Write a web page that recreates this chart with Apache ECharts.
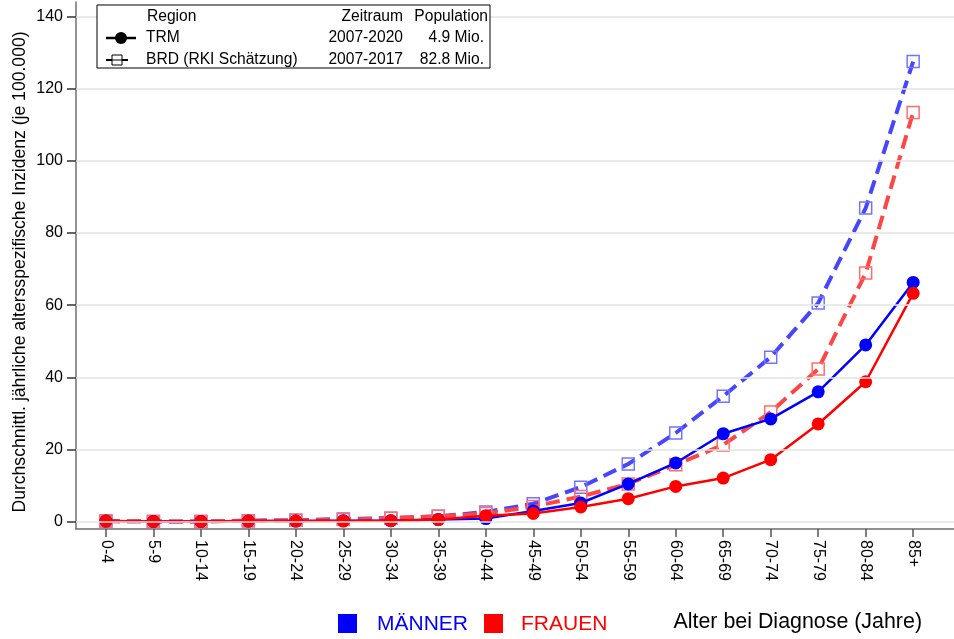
<!DOCTYPE html>
<html>
<head>
<meta charset="utf-8">
<script src="https://cdn.jsdelivr.net/npm/echarts@6/dist/echarts.min.js"></script>
<style>
  html, body { margin: 0; padding: 0; background: #fff; }
  #main { width: 954px; height: 639px; }
</style>
</head>
<body>
<div id="main"></div>
<script>
// Altersgruppen (x-Achse)
const categories = ['0-4', '5-9', '10-14', '15-19', '20-24', '25-29', '30-34', '35-39', '40-44',
  '45-49', '50-54', '55-59', '60-64', '65-69', '70-74', '75-79', '80-84', '85+'];

// TRM, 2007-2020
const trmMen   = [0.2, 0.1, 0.1, 0.2, 0.2, 0.3, 0.3, 0.6, 0.9, 3.0, 5.2, 10.5, 16.3, 24.4, 28.5, 36.0, 49.0, 66.3];
const trmWomen = [0.2, 0.1, 0.1, 0.2, 0.2, 0.2, 0.3, 0.6, 1.7, 2.3, 4.1, 6.4, 9.8, 12.1, 17.2, 27.1, 38.8, 63.3];

// BRD (RKI Schätzung), 2007-2017
const brdMen   = [0.2, 0.1, 0.1, 0.3, 0.4, 0.8, 1.0, 1.5, 2.7, 5.0, 9.6, 16.0, 24.6, 34.8, 45.6, 60.6, 86.9, 127.5];
const brdWomen = [0.2, 0.1, 0.1, 0.3, 0.4, 0.6, 1.0, 1.5, 2.3, 4.2, 7.0, 10.5, 15.8, 21.3, 30.4, 42.3, 68.9, 113.4];

// y-Achse
const yTicks = [0, 20, 40, 60, 80, 100, 120, 140];
const yTitle = 'Durchschnittl. jährliche altersspezifische Inzidenz (je 100.000)';

// legend table rows
const legendHeader = ['Region', 'Zeitraum', 'Population'];
const legendRows = [
  ['TRM', '2007-2020', '4.9 Mio.'],
  ['BRD (RKI Schätzung)', '2007-2017', '82.8 Mio.']
];

const FONT = '"Liberation Sans", Arial, sans-serif';
const xIdx = categories.map((c, i) => i);

function pairs(arr) {
  return arr.map((v, i) => [i, v]);
}

const chart = echarts.init(document.getElementById('main'), null, { renderer: 'canvas' });

function trmSeries(name, color, values) {
  return {
    name: name,
    type: 'line',
    data: pairs(values),
    z: 4,
    symbol: 'circle',
    symbolSize: 13,
    lineStyle: { color: color, width: 2.5 },
    itemStyle: { color: color, borderWidth: 0 },
    animation: false
  };
}

function brdSeries(name, color, border, values) {
  return {
    name: name,
    type: 'line',
    data: pairs(values),
    z: 3,
    symbol: 'rect',
    symbolSize: 12,
    lineStyle: { color: color, width: 4, type: [14, 7] },
    itemStyle: { color: 'rgba(255,255,255,0)', borderColor: border, borderWidth: 1.5 },
    animation: false
  };
}

function txt(x, y, s, size, color, alignRight) {
  return {
    type: 'text', z: 101, x: x, y: y,
    style: {
      text: s, font: size + 'px ' + FONT, fill: color,
      align: alignRight ? 'right' : 'left', verticalAlign: 'middle'
    }
  };
}

const option = {
  animation: false,
  textStyle: { fontFamily: FONT },
  grid: { left: 76, right: 0, top: 2, bottom: 110, containLabel: false, outerBoundsMode: 'none' },
  xAxis: {
    type: 'value',
    min: -0.63,
    max: 17.86,
    axisLine: { show: true, onZero: false, lineStyle: { color: '#6e6e6e', width: 1.5 } },
    axisTick: { show: true, length: 8, customValues: xIdx, lineStyle: { color: '#555', width: 1.5 } },
    axisLabel: {
      customValues: xIdx,
      rotate: -90,
      margin: 11,
      fontSize: 16,
      color: '#000',
      fontFamily: FONT,
      formatter: v => (Number.isInteger(v) && categories[v] !== undefined) ? categories[v] : ''
    },
    splitLine: { show: false }
  },
  yAxis: {
    type: 'value',
    min: -2,
    max: 144,
    axisLine: { show: true, onZero: false, lineStyle: { color: '#6e6e6e', width: 1.5 } },
    axisTick: { show: true, length: 9, customValues: yTicks, lineStyle: { color: '#333', width: 1.5 } },
    axisLabel: {
      customValues: yTicks,
      margin: 13,
      fontSize: 16,
      color: '#000',
      fontFamily: FONT
    },
    splitLine: { show: false }
  },
  series: [
    {
      name: 'grid',
      type: 'line',
      data: [],
      z: 1,
      silent: true,
      markLine: {
        silent: true,
        symbol: 'none',
        animation: false,
        label: { show: false },
        lineStyle: { color: '#e3e3e3', width: 1.5, type: 'solid' },
        data: yTicks.map(v => ({ yAxis: v }))
      }
    },
    brdSeries('BRD Männer', '#4646ff', '#7373ff', brdMen),
    trmSeries('TRM Männer', '#0000ff', trmMen),
    brdSeries('BRD Frauen', '#ff4646', '#ff6e6e', brdWomen),
    trmSeries('TRM Frauen', '#ff0000', trmWomen)
  ],
  graphic: [
    // y-Achsentitel
    {
      type: 'text', x: 20, y: 272, rotation: Math.PI / 2,
      style: { text: yTitle, font: '17.6px ' + FONT, fill: '#000', align: 'center', verticalAlign: 'middle' }
    },

    // Legende oben links
    { type: 'rect', z: 100, shape: { x: 97, y: 5, width: 393, height: 63 },
      style: { fill: '#fff', stroke: '#000', lineWidth: 1 } },
    txt(147, 17, legendHeader[0], 15.6, '#000', false),
    txt(403, 17, legendHeader[1], 15.6, '#000', true),
    txt(488, 17, legendHeader[2], 15.6, '#000', true),

    { type: 'line', z: 101, shape: { x1: 106, y1: 38, x2: 136, y2: 38 },
      style: { stroke: '#000', lineWidth: 2.5 } },
    { type: 'circle', z: 102, shape: { cx: 121, cy: 38, r: 6 }, style: { fill: '#000' } },
    txt(146, 38, legendRows[0][0], 15.6, '#000', false),
    txt(403, 38, legendRows[0][1], 15.6, '#000', true),
    txt(484, 38, legendRows[0][2], 15.6, '#000', true),

    { type: 'line', z: 101, shape: { x1: 106, y1: 60, x2: 112, y2: 60 },
      style: { stroke: '#000', lineWidth: 2 } },
    { type: 'line', z: 101, shape: { x1: 122, y1: 60, x2: 128, y2: 60 },
      style: { stroke: '#000', lineWidth: 2 } },
    { type: 'rect', z: 102, shape: { x: 112, y: 55, width: 10, height: 10 },
      style: { fill: '#fff', stroke: '#000', lineWidth: 1 } },
    { type: 'line', z: 103, shape: { x1: 112, y1: 60, x2: 122, y2: 60 },
      style: { stroke: '#000', lineWidth: 1 } },
    txt(146, 60, legendRows[1][0], 15.6, '#000', false),
    txt(403, 60, legendRows[1][1], 15.6, '#000', true),
    txt(484, 60, legendRows[1][2], 15.6, '#000', true),

    // Legende unten
    { type: 'rect', shape: { x: 338, y: 614, width: 19, height: 19 }, style: { fill: '#0000ff' } },
    txt(377, 624, 'MÄNNER', 21, '#0000ff', false),
    { type: 'rect', shape: { x: 484, y: 614, width: 19, height: 19 }, style: { fill: '#ff0000' } },
    txt(521, 624, 'FRAUEN', 21, '#ff0000', false),
    txt(922, 622, 'Alter bei Diagnose (Jahre)', 21.4, '#000', true)
  ]
};

chart.setOption(option);
</script>
</body>
</html>
